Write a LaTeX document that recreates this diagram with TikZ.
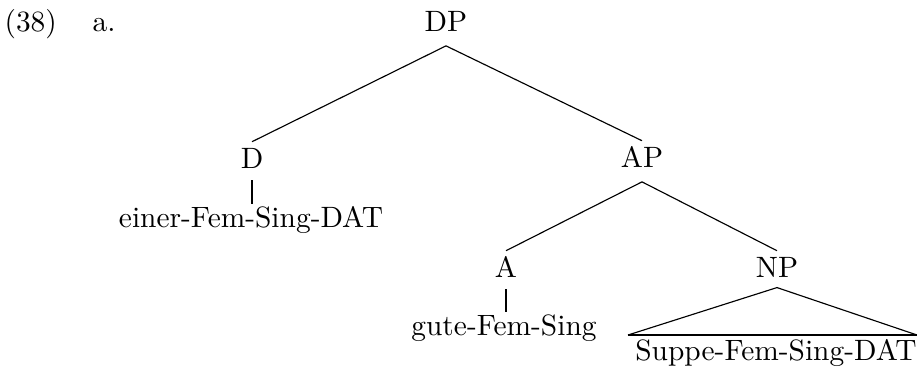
\documentclass[tikz,border=0pt]{standalone}
\begin{document}
\begin{tikzpicture}[x=0.35pt,y=-0.35pt,
  every node/.style={font=\fontsize{10.3}{12}\selectfont},
  cat/.style={inner sep=0pt,anchor=base,text height=9pt,text depth=5pt},
  catb/.style={cat,text depth=4pt},
  word/.style={inner sep=0pt,anchor=base,text height=8pt,text depth=2pt},
  branch/.style={line width=0.4pt},
  bar/.style={line width=0.6pt},
  base/.style={line width=0.8pt}]
\useasboundingbox (0,0) rectangle (917,371);
\node[anchor=base west,inner sep=0pt] (ex) at (4,31) {(38)};
\node[anchor=base west,inner sep=0pt] (lbl) at (92,31) {a.};
\node[cat] (DP) at (446,31) {DP};
\node[catb] (D) at (252,168) {D};
\node[cat] (AP) at (642,167) {AP};
\node[word] (einer) at (251,227) {einer-Fem-Sing-DAT};
\node[catb] (A) at (506,277) {A};
\node[cat,text depth=3.5pt] (NP) at (777,277) {NP};
\node[word] (gute) at (504,335) {gute-Fem-Sing};
\node[word] (suppe) at (776,360) {Suppe-Fem-Sing-DAT};
\coordinate (tl) at (628,335);
\coordinate (tr) at (917,335);
\draw[branch] (DP.south) -- (D.north);
\draw[branch] (DP.south) -- (AP.north);
\draw[bar] (D.south) -- (D.south |- einer.north);
\draw[branch] (AP.south) -- (A.north);
\draw[branch] (AP.south) -- (NP.north);
\draw[bar] (A.south) -- (A.south |- gute.north);
\draw[branch] (tl) -- (NP.south) -- (tr);
\draw[base] (tl) -- (tr);
\end{tikzpicture}
\end{document}
